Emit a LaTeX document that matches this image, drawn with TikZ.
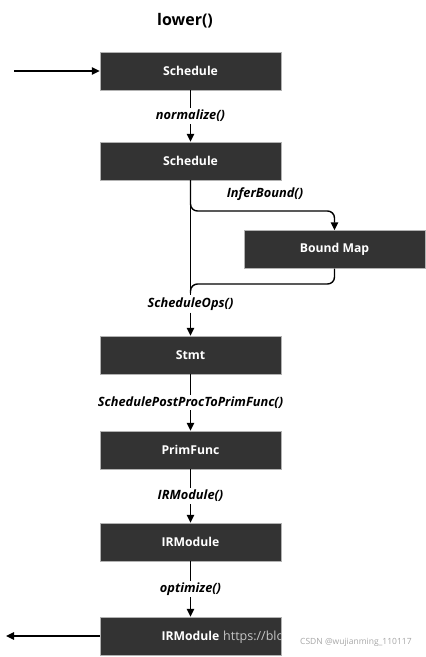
\documentclass[tikz,border=0pt]{standalone}
\usepackage{fontspec}
\setmainfont{Open Sans}
\usepackage{xcolor}
\usepackage{tikz}
\usetikzlibrary{positioning,calc,arrows.meta}
\definecolor{boxgray}{HTML}{333333}
\tikzstyle{stage} = [rectangle, minimum width=181pt, minimum height=38pt, text centered, draw=gray!60, fill=boxgray, text=white, font=\fontsize{12.2}{14}\selectfont\bfseries]
\tikzstyle{call} = [fill=white, inner sep=2pt, font=\fontsize{12.8}{14}\selectfont\bfseries\itshape]
\tikzstyle{arrow} = [line width=1.4pt,-{Triangle[length=8pt,width=7.5pt]}]
\tikzstyle{wire} = [line width=1.4pt]

\begin{document}
\begin{tikzpicture}[x=1pt,y=-1pt]
	\useasboundingbox (0,0) rectangle (426,657);

	\node (title) at (185,21) {\fontsize{16}{18}\selectfont\bfseries lower()};

	\node (sched) [stage] at (190.5,71) {Schedule};
	\node (norm) [stage] at (190.5,161) {Schedule};
	\node (bmap) [stage] at (334.5,249.5) {Bound Map};
	\node (stmt) [stage] at (190.5,355) {Stmt};
	\node (prim) [stage] at (190.5,450) {PrimFunc};
	\node (irmod) [stage] at (190.5,542) {IRModule};
	\node (opt) [stage] at (190.5,636) {IRModule};

	\coordinate (in) at (14,71);
	\coordinate (out) at (6,636);
	\coordinate (split) at (0,211);
	\coordinate (join) at (0,284);
	\coordinate (merge) at (0,293);

	% calls on the edges
	\node (ops) [call] at (190.5,304) {ScheduleOps()};

	\draw [arrow] (in) -- (sched);
	\draw [arrow] (sched) -- node[call] {normalize()} (norm);
	\draw [wire] (norm.south) -- (ops);
	\draw [arrow, rounded corners=7pt] (norm.south) -- (norm.south |- split) -- (bmap.north |- split) -- (bmap.north);
	\node [call, fill=none] at (265,194) {InferBound()};
	\draw [wire, rounded corners=7pt] (bmap.south) -- (bmap.south |- join) -- (norm.south |- join) -- (norm.south |- merge);
	\draw [arrow] (ops) -- (stmt);
	\draw [arrow] (stmt) -- node[call] {SchedulePostProcToPrimFunc()} (prim);
	\draw [arrow] (prim) -- node[call] {IRModule()} (irmod);
	\draw [arrow] (irmod) -- node[call] {optimize()} (opt);
	\draw [arrow] (opt) -- (out);

	% watermark
	\begin{scope}
		\clip (opt.south west) rectangle (opt.north east);
		\node (wm) [text=gray!45, font=\fontsize{12.5}{14}\selectfont, anchor=west, inner sep=0pt] at (223,637) {https://blog};
	\end{scope}
	\node (csdn) [text=gray!70, font=\fontsize{8.5}{10}\selectfont, anchor=west, inner sep=0pt] at (300,642) {CSDN @wujianming\_110117};

\end{tikzpicture}
\end{document}
